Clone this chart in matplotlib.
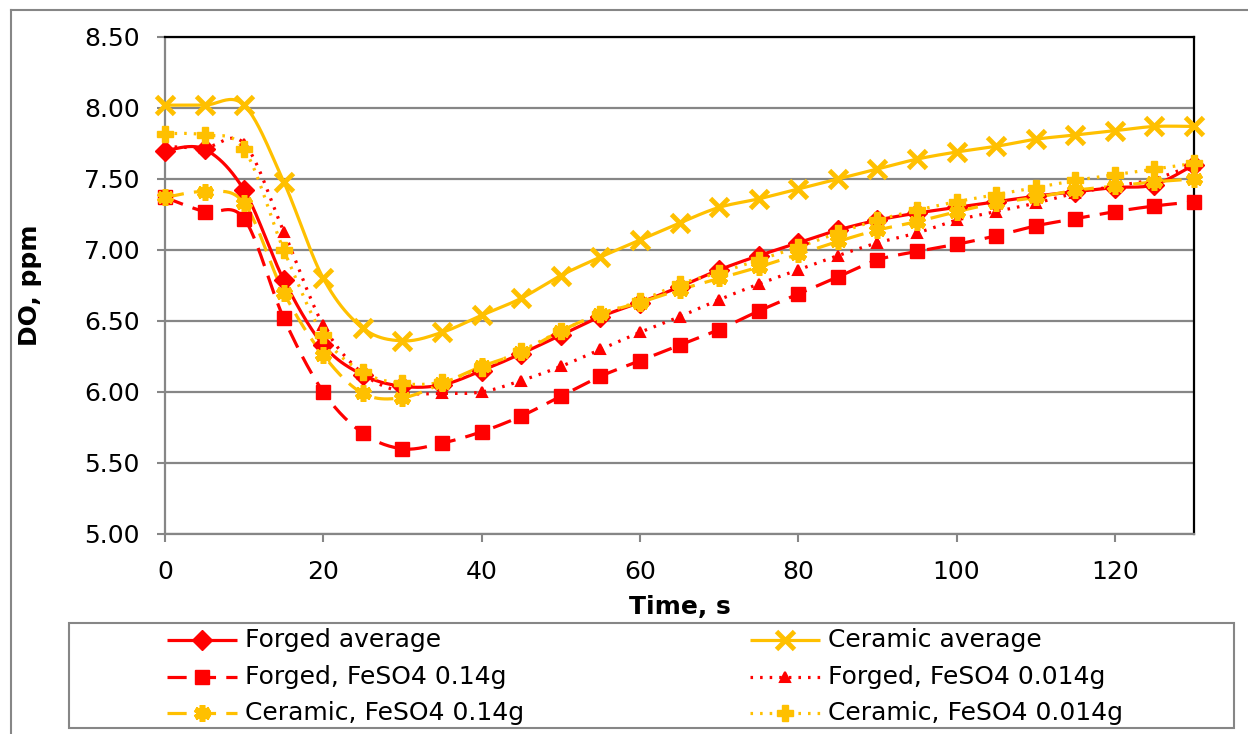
import numpy as np
import matplotlib
matplotlib.use("Agg")
import matplotlib.pyplot as plt
from matplotlib.lines import Line2D
from matplotlib.patches import Rectangle

time_s = [0, 5, 10, 15, 20, 25, 30, 35, 40, 45, 50, 55, 60, 65, 70, 75, 80, 85, 90,
          95, 100, 105, 110, 115, 120, 125, 130]

forged_avg = [7.70, 7.71, 7.42, 6.79, 6.33, 6.12, 6.04, 6.05, 6.15, 6.27, 6.40, 6.53, 6.63,
              6.74, 6.86, 6.96, 7.05, 7.14, 7.21, 7.26, 7.30, 7.34, 7.38, 7.41, 7.44, 7.46, 7.60]
ceramic_avg = [8.02, 8.02, 8.02, 7.48, 6.80, 6.45, 6.36, 6.42, 6.54, 6.66, 6.82, 6.95, 7.07,
               7.19, 7.30, 7.36, 7.43, 7.50, 7.57, 7.64, 7.69, 7.73, 7.78, 7.81, 7.84, 7.87, 7.87]
forged_014 = [7.37, 7.27, 7.22, 6.52, 6.00, 5.71, 5.60, 5.64, 5.72, 5.83, 5.97, 6.11, 6.22,
              6.33, 6.44, 6.57, 6.69, 6.81, 6.93, 6.99, 7.04, 7.10, 7.17, 7.22, 7.27, 7.31, 7.34]
forged_0014 = [7.73, 7.72, 7.75, 7.13, 6.47, 6.13, 6.00, 5.99, 6.00, 6.08, 6.18, 6.30, 6.42,
               6.53, 6.65, 6.76, 6.86, 6.96, 7.05, 7.12, 7.21, 7.27, 7.33, 7.40, 7.45, 7.50, 7.60]
ceramic_014 = [7.37, 7.41, 7.33, 6.70, 6.26, 5.99, 5.96, 6.06, 6.18, 6.28, 6.43, 6.55, 6.63,
               6.72, 6.80, 6.88, 6.97, 7.06, 7.14, 7.20, 7.27, 7.33, 7.37, 7.42, 7.45, 7.48, 7.50]
ceramic_0014 = [7.82, 7.81, 7.71, 7.00, 6.40, 6.14, 6.06, 6.07, 6.17, 6.29, 6.43, 6.55, 6.64,
                6.76, 6.84, 6.93, 7.02, 7.12, 7.21, 7.28, 7.34, 7.39, 7.44, 7.49, 7.53, 7.57, 7.61]

labels = ["Forged average", "Ceramic average", "Forged, FeSO4 0.14g",
          "Forged, FeSO4 0.014g", "Ceramic, FeSO4 0.14g", "Ceramic, FeSO4 0.014g"]

y_ticks = [5.0, 5.5, 6.0, 6.5, 7.0, 7.5, 8.0, 8.5]
x_ticks = [0, 20, 40, 60, 80, 100, 120]

RED = "#FF0000"
ORANGE = "#FFC000"

DASH = (0, (6, 3.2))
DOT = (0, (0.8, 2.2))

series = [
    (forged_avg, dict(color=RED, ls="-", marker="D", ms=10, mew=1)),
    (ceramic_avg, dict(color=ORANGE, ls="-", marker="x", ms=13, mew=3.5)),
    (forged_014, dict(color=RED, ls=DASH, marker="s", ms=10, mew=1)),
    (forged_0014, dict(color=RED, ls=DOT, marker="^", ms=7, mew=1.5)),
    (ceramic_014, dict(color=ORANGE, ls=DASH, marker=(6, 2, 0), ms=12, mew=4)),
    (ceramic_0014, dict(color=ORANGE, ls=DOT, marker="P", ms=12, mew=1)),
]


def smooth(x, y, n=24):
    x = np.asarray(x, float)
    y = np.asarray(y, float)
    px = np.concatenate([[x[0]], x, [x[-1]]])
    py = np.concatenate([[y[0]], y, [y[-1]]])
    xs, ys = [], []
    t = np.linspace(0, 1, n, endpoint=False)
    for i in range(1, len(px) - 2):
        p0x, p1x, p2x, p3x = px[i - 1], px[i], px[i + 1], px[i + 2]
        p0y, p1y, p2y, p3y = py[i - 1], py[i], py[i + 1], py[i + 2]
        c1x, c1y = p1x + (p2x - p0x) / 6, p1y + (p2y - p0y) / 6
        c2x, c2y = p2x - (p3x - p1x) / 6, p2y - (p3y - p1y) / 6
        b0 = (1 - t) ** 3
        b1 = 3 * (1 - t) ** 2 * t
        b2 = 3 * (1 - t) * t ** 2
        b3 = t ** 3
        xs.append(b0 * p1x + b1 * c1x + b2 * c2x + b3 * p2x)
        ys.append(b0 * p1y + b1 * c1y + b2 * c2y + b3 * p2y)
    xs.append([x[-1]])
    ys.append([y[-1]])
    return np.concatenate(xs), np.concatenate(ys)


W, H = 1248, 734
fig = plt.figure(figsize=(W / 100, H / 100), dpi=100)
ax = fig.add_axes([165 / W, 1 - 534 / H, (1194 - 165) / W, (534 - 37) / H])

for vals, st in series:
    sx, sy = smooth(time_s, vals)
    ax.plot(sx, sy, color=st["color"], ls=st["ls"], lw=2.3, zorder=3,
            solid_capstyle="butt", dash_capstyle="butt")
    ax.plot(time_s, vals, ls="none", marker=st["marker"], ms=st["ms"], mew=st["mew"],
            color=st["color"], mfc=st["color"], mec=st["color"], zorder=4, clip_on=False)

ax.set_xlim(0, 130)
ax.set_ylim(5.0, 8.5)
ax.set_yticks(y_ticks)
ax.set_yticklabels([f"{v:.2f}" for v in y_ticks])
ax.set_xticks(x_ticks)
ax.set_xticklabels([str(v) for v in x_ticks])
ax.grid(axis="y", color="#868686", lw=1.6, zorder=1)
ax.set_axisbelow(True)
ax.tick_params(axis="both", which="major", labelsize=18, length=6, width=1.5,
               color="#868686", pad=12)
ax.tick_params(axis="x", pad=13)
for s in ["left", "bottom"]:
    ax.spines[s].set_color("#868686")
    ax.spines[s].set_linewidth(1.6)
for s in ["top", "right"]:
    ax.spines[s].set_color("black")
    ax.spines[s].set_linewidth(1.6)
ax.set_ylabel("DO, ppm", fontsize=18, fontweight="bold")
ax.set_xlabel("Time, s", fontsize=18, fontweight="bold", labelpad=8)
ax.yaxis.set_label_coords(-(165 - 30) / (1194 - 165), 0.5)
ax.yaxis.label.set_va("center")

# outer chart border
fig.add_artist(Line2D([11 / W, 1.0], [1 - 10 / H, 1 - 10 / H], color="#868686", lw=1.5))
fig.add_artist(Line2D([11 / W, 11 / W], [1 - 10 / H, 0.0], color="#868686", lw=1.5))

# legend
fig.add_artist(Rectangle((69 / W, 1 - 728 / H), (1234 - 69) / W, (728 - 623) / H,
                         fill=False, ec="#868686", lw=1.5))
order = [0, 2, 4, 1, 3, 5]
rows_y = [640, 677, 713]
cols_x = [167, 750]
for k, idx in enumerate(order):
    col, row = divmod(k, 3)
    vals, st = series[idx]
    x0 = cols_x[col]
    yy = 1 - rows_y[row] / H
    fig.add_artist(Line2D([x0 / W, (x0 + 70) / W], [yy, yy], color=st["color"], ls=st["ls"],
                          lw=2.3, dash_capstyle="butt", solid_capstyle="butt"))
    fig.add_artist(Line2D([(x0 + 35) / W], [yy], ls="none", marker=st["marker"],
                          ms=st["ms"], mew=st["mew"], color=st["color"],
                          mfc=st["color"], mec=st["color"]))
    fig.text((x0 + 78) / W, yy, labels[idx], fontsize=18, va="center", ha="left")

fig.savefig("out.png", dpi=100)
